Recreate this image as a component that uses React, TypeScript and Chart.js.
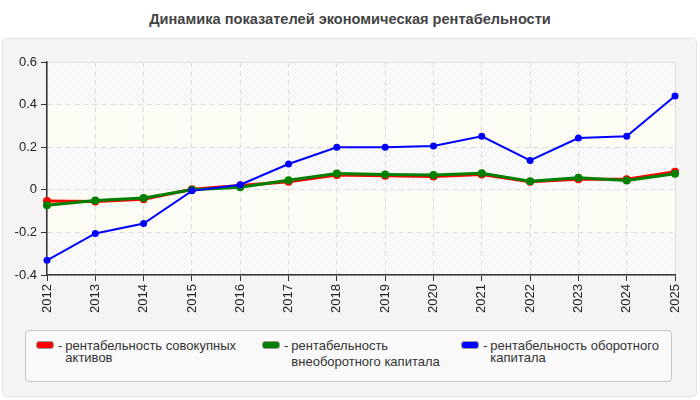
import { useEffect, useRef } from "react";
import { Chart, registerables } from "chart.js";

Chart.register(...registerables);

const years = ["2012", "2013", "2014", "2015", "2016", "2017", "2018", "2019", "2020", "2021", "2022", "2023", "2024", "2025"];
const totalAssets = [-0.052, -0.055, -0.044, 0.003, 0.02, 0.038, 0.07, 0.066, 0.063, 0.072, 0.038, 0.05, 0.05, 0.085];
const fixedCapital = [-0.072, -0.05, -0.038, 0.0, 0.012, 0.045, 0.077, 0.072, 0.069, 0.078, 0.04, 0.056, 0.044, 0.075];
const workingCapital = [-0.331, -0.205, -0.158, -0.005, 0.024, 0.121, 0.2, 0.2, 0.206, 0.251, 0.138, 0.243, 0.251, 0.44];
const yTicks = [-0.4, -0.2, 0, 0.2, 0.4, 0.6];

const title = "Динамика показателей экономическая рентабельности";
const legendLines = [
  ["рентабельность совокупных", "активов"],
  ["рентабельность", "внеоборотного капитала"],
  ["рентабельность оборотного", "капитала"],
];
const colors = ["#ff0000", "#008000", "#0000ff"];

const FONT = "'Liberation Sans', Arial, sans-serif";

function makeHatch(): CanvasPattern | string {
  const c = document.createElement("canvas");
  c.width = 4;
  c.height = 4;
  const g = c.getContext("2d");
  if (!g) return "#f8f8f8";
  g.fillStyle = "#fdfdfd";
  g.fillRect(0, 0, 4, 4);
  g.strokeStyle = "#ededed";
  g.lineWidth = 1;
  g.beginPath();
  g.moveTo(0, 4);
  g.lineTo(4, 0);
  g.moveTo(-1, 1);
  g.lineTo(1, -1);
  g.moveTo(3, 5);
  g.lineTo(5, 3);
  g.stroke();
  return g.createPattern(c, "repeat") || "#f8f8f8";
}

const bandsPlugin = {
  id: "bands",
  beforeDraw(chart: any) {
    const { ctx, chartArea, scales } = chart;
    const y = scales.y;
    const hatch = makeHatch();
    ctx.save();
    for (let i = 0; i < yTicks.length - 1; i++) {
      const top = y.getPixelForValue(yTicks[i + 1]);
      const bottom = y.getPixelForValue(yTicks[i]);
      ctx.fillStyle = i % 2 === 0 ? hatch : "#fcfcf4";
      ctx.fillRect(chartArea.left, top, chartArea.right - chartArea.left, bottom - top);
    }
    ctx.strokeStyle = "#dddddd";
    ctx.lineWidth = 1;
    ctx.strokeRect(chartArea.left + 0.5, chartArea.top + 0.5, chartArea.right - chartArea.left, chartArea.bottom - chartArea.top);
    ctx.restore();
  },
};

const App: React.FC = () => {
  const canvasRef = useRef<HTMLCanvasElement | null>(null);

  useEffect(() => {
    const canvas = canvasRef.current;
    let chart: Chart | null = null;

    if (canvas) {
      Chart.getChart(canvas)?.destroy();

      const series = [totalAssets, fixedCapital, workingCapital];

      chart = new Chart(canvas, {
        type: "line",
        data: {
          labels: years,
          datasets: series.map((data, i) => ({
            label: legendLines[i].join(" "),
            data: data,
            borderColor: colors[i],
            backgroundColor: colors[i],
            borderWidth: i === 2 ? 2 : 3,
            pointRadius: i === 2 ? 3.5 : 4,
            pointBorderWidth: 0,
            tension: 0,
            fill: false,
            clip: false as any,
            order: 3 - i,
          })),
        },
        options: {
          animation: false,
          responsive: true,
          maintainAspectRatio: false,
          layout: { padding: { left: 7, right: 25, top: 62, bottom: 10 } },
          plugins: {
            legend: { display: false },
            tooltip: { enabled: false },
          },
          scales: {
            x: {
              offset: false,
              grid: {
                color: "#dcdcdc",
                tickColor: "#333333",
                tickLength: 6,
              },
              border: { color: "#333333", width: 1.5, dash: [5, 4] },
              ticks: {
                autoSkip: false,
                maxRotation: 90,
                minRotation: 90,
                padding: 3,
                color: "#222222",
                font: { family: FONT, size: 13 },
              },
              afterFit: (scale: any) => {
                scale.height = 45;
                scale.paddingLeft = 0;
                scale.paddingRight = 0;
              },
            },
            y: {
              min: yTicks[0],
              max: yTicks[yTicks.length - 1],
              grid: {
                color: "#dcdcdc",
                tickColor: "#333333",
                tickLength: 6,
              },
              border: { color: "#333333", width: 1.5, dash: [5, 4] },
              ticks: {
                stepSize: 0.2,
                padding: 4,
                color: "#222222",
                font: { family: FONT, size: 13 },
                callback: (v: any) => String(Math.round(Number(v) * 10) / 10),
              },
              afterFit: (scale: any) => {
                scale.width = 40;
                scale.paddingTop = 0;
                scale.paddingBottom = 0;
              },
            },
          },
        },
        plugins: [bandsPlugin],
      });
    }

    return () => {
      if (chart) {
        chart.destroy();
      }
    };
  }, []);

  return (
    <div style={{ position: "absolute", left: 0, top: 0, width: 700, height: 400, background: "#ffffff", fontFamily: FONT }}>
      <div
        style={{
          position: "absolute",
          left: 0,
          top: 11,
          width: 700,
          textAlign: "center",
          fontSize: 14.6,
          fontWeight: "bold",
          color: "#444444",
        }}
      >
        {title}
      </div>
      <div
        style={{
          position: "absolute",
          left: 2,
          top: 38,
          width: 693,
          height: 357,
          background: "#f4f4f4",
          border: "1px solid #e4e4e4",
          borderRadius: 5,
        }}
      />
      <div style={{ position: "absolute", left: 0, top: 0, width: 700, height: 330 }}>
        <canvas ref={canvasRef}></canvas>
      </div>
      <div
        style={{
          position: "absolute",
          left: 25,
          top: 330,
          width: 645,
          height: 50,
          background: "#f9f9f9",
          border: "1px solid #c4c4c4",
          borderRadius: 4,
        }}
      />
      {legendLines.map((lines, i) => {
        const left = [36, 262, 461][i];
        const lh = i === 1 ? 16 : 12;
        return (
          <div
            key={i}
            style={{ position: "absolute", left: left, top: 340, display: "flex", fontSize: 13, color: "#333333" }}
          >
            <span
              style={{
                display: "inline-block",
                width: 16,
                height: 6,
                marginTop: 1,
                background: colors[i],
                border: "1px solid #9a9a9a",
                borderRadius: 3,
              }}
            />
            <span style={{ marginLeft: 4, lineHeight: "12px" }}>-</span>
            <span style={{ marginLeft: 3, lineHeight: lh + "px", marginTop: i === 1 ? -2 : 0, whiteSpace: "nowrap" }}>
              {lines[0]}
              <br />
              {lines[1]}
            </span>
          </div>
        );
      })}
    </div>
  );
};

export default App;
